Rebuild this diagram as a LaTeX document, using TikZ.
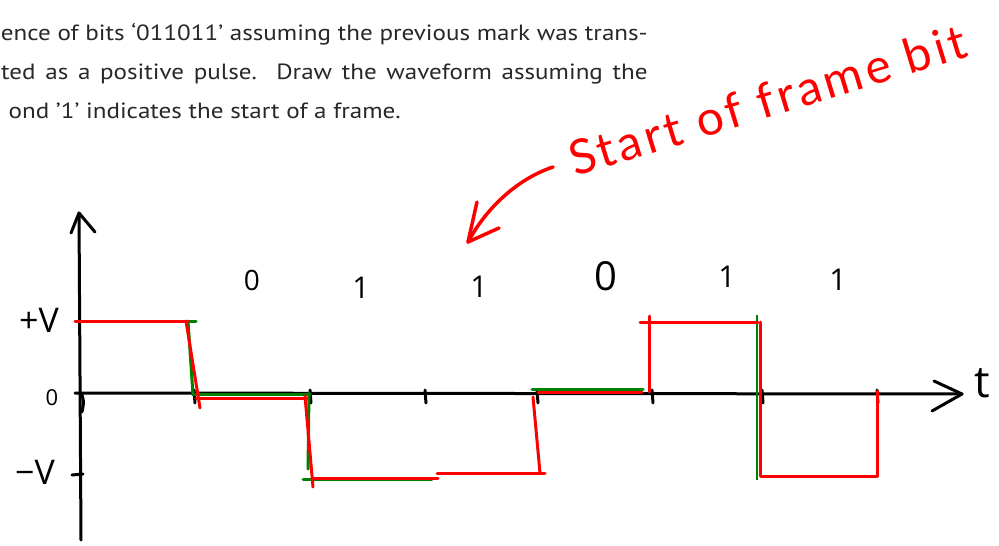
\documentclass[tikz,border=0pt]{standalone}
\usepackage{fontspec}
\setmainfont{PT Sans}
\newfontfamily\hand{Open Sans}
\newfontfamily\handnote[LetterSpace=8]{Lato}
\definecolor{inkred}{RGB}{255,0,0}
\definecolor{inkgreen}{RGB}{0,128,0}
\definecolor{printgray}{RGB}{40,40,40}
\begin{document}
\begin{tikzpicture}[x=1pt,y=-1pt,
  axisline/.style={line width=3pt,line cap=round,line join=round,black},
  tickmark/.style={line width=3pt,line cap=round,black},
  redline/.style={line width=3pt,inkred,line cap=round,line join=round},
  greenline/.style={line width=3pt,inkgreen,line cap=round},
  printed/.style={font=\fontsize{22}{26}\selectfont,text=printgray,inner sep=0pt,xscale=1.14},
  hw/.style={font=\hand\fontsize{#1}{#1}\selectfont,inner sep=0pt}]
\useasboundingbox (0,0) rectangle (999,546);
\clip (0,0) rectangle (999,546);
\fill[white] (0,0) rectangle (999,546);

% printed question text
\node[printed,anchor=base east] (l2) at (648,40) {ence of bits ‘011011’ assuming the previous mark was trans-};
\node[printed,anchor=base west] (l3) at (1,79) {\makebox[567pt][s]{ted as a positive pulse.\ \ Draw the waveform assuming the}};
\node[printed,anchor=base east] (l4) at (401,118) {ond ’1’ indicates the start of a frame.};

% axes
\coordinate (ytop) at (79,213);
\coordinate (ybot) at (81,540);
\coordinate (xleft) at (75,393);
\coordinate (xtip) at (962,394);
\draw[axisline] (ybot) -- (ytop);
\draw[axisline] (71,233) -- (ytop) -- (95,232);
\draw[axisline] (xleft) -- (xtip);
\draw[axisline] (934,381) -- (xtip) -- (932,411);

% ticks
\draw[tickmark] (82,395) .. controls (84,402) .. (82,412);
\draw[tickmark] (72,475) -- (83,474);
\foreach \tx in {194,310,425,537,652,762,877}
  \draw[tickmark] (\tx,390) -- (\tx+1,403);

% axis labels
\node[hw=34] (pv) at (39,320) {+V};
\node[hw=22] (zero) at (52,398) {0};
\node[hw=34] (mv) at (35,472) {−V};
\node[hw=44] (tlab) at (982,383) {t};

% bit labels
\node[hw=28] (b1) at (252,280) {0};
\node[hw=30] (b2) at (361,288) {1};
\node[hw=30] (b3) at (479,287) {1};
\node[hw=40] (b4) at (606,276) {0};
\node[hw=30] (b5) at (727,277) {1};
\node[hw=30] (b6) at (838,280) {1};

% green waveform (AMI)
\draw[greenline] (82,321) -- (196,321);
\draw[greenline] (188,321) -- (193,395);
\draw[greenline] (195,394) -- (310,394);
\draw[greenline] (309,393) -- (308,469);
\draw[greenline] (303,479) -- (432,479);
\draw[greenline] (532,389) -- (643,389);
\draw[inkgreen,line width=2pt] (757,315) -- (757,480);

% red waveform
\draw[redline] (75,321) -- (188,321);
\draw[redline] (186,321) -- (200,408);
\draw[redline] (196,398) -- (307,398);
\draw[redline] (305,396) -- (313,487);
\draw[redline] (312,478) -- (438,478);
\draw[redline] (437,473) -- (545,473);
\draw[redline] (540,473) -- (533,397);
\draw[redline] (538,392) -- (642,392);
\draw[redline] (649,392) -- (649,316);
\draw[redline] (640,322) -- (758,322);
\draw[redline] (760,322) -- (760,476) -- (877,476) -- (877,391);

% annotation
\node[font=\handnote\fontsize{48}{48}\selectfont,inner sep=0pt,text=inkred,rotate=17,anchor=base west] (note) at (575,177) {Start of frame bit};
\coordinate (arrtail) at (553,167);
\coordinate (arrtip) at (468,242);
\draw[redline,line width=3.5pt] (arrtail) .. controls (520,178) and (488,205) .. (arrtip);
\draw[redline,line width=3.5pt] (477,202) -- (arrtip) -- (499,228);
\end{tikzpicture}
\end{document}
